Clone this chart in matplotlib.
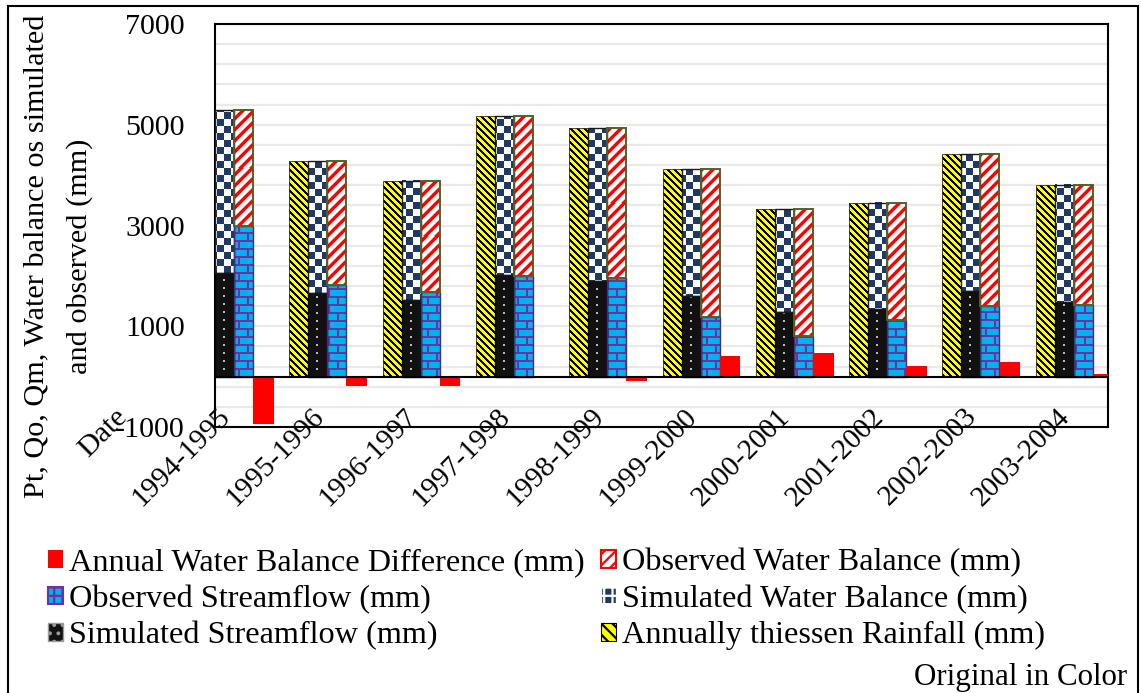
import numpy as np
import matplotlib
matplotlib.use('Agg')
import matplotlib.pyplot as plt
import matplotlib.colors as mcolors
from matplotlib.patches import Patch, Rectangle

# ---------------- data ----------------
years = ["1994-1995", "1995-1996", "1996-1997", "1997-1998", "1998-1999",
         "1999-2000", "2000-2001", "2001-2002", "2002-2003", "2003-2004"]
rainfall = [5300, 4275, 3885, 5170, 4930, 4120, 3320, 3440, 4410, 3800]
sim_flow = [2065, 1660, 1515, 2020, 1900, 1600, 1290, 1335, 1705, 1475]
sim_balance = [3235, 2615, 2370, 3150, 3030, 2520, 2030, 2105, 2705, 2325]
obs_flow = [2995, 1825, 1670, 2000, 1950, 1190, 810, 1125, 1410, 1420]
obs_balance = [2305, 2450, 2215, 3170, 2980, 2930, 2510, 2315, 3000, 2380]
balance_diff = [-950, -190, -180, -20, -80, 410, 465, 220, 300, 50]
first_label = "Date"
y_ticks = [-1000, 1000, 3000, 5000, 7000]
y_label_lines = ["Pt, Qo, Qm, Water balance os simulated", "and observed (mm)"]
series_names = ["Annual Water Balance Difference (mm)", "Observed Streamflow (mm)",
                "Simulated Streamflow (mm)", "Observed Water Balance (mm)",
                "Simulated Water Balance (mm)", "Annually thiessen Rainfall (mm)"]

plt.rcParams['font.family'] = ['Liberation Serif', 'DejaVu Serif']
plt.rcParams['hatch.linewidth'] = 1.6
plt.rcParams['axes.unicode_minus'] = False

W, H = 1141, 693
fig = plt.figure(figsize=(W / 100, H / 100), dpi=100)
ax = fig.add_axes([215 / W, 1 - 427 / H, (1108 - 215) / W, (427 - 24) / H])
bw = 0.2036
x = np.arange(len(years))
ax.set_xlim(-bw, 9.367)
ax.set_ylim(-1000, 7000)

YELLOW = '#FFFF00'; NAVY = '#1F3864'; CYAN = '#00B0F0'; PURPLE = '#7030A0'
RED = '#FF0000'; OLIVE = '#4F6228'


def rgb(h):
    return np.array(mcolors.to_rgb(h))


def make_tex(kind, X, Y, j, ncols):
    out = np.ones(X.shape + (3,))
    if kind == 'rain':
        out[:] = rgb(YELLOW)
        out[((X - Y) % 7) < 3] = rgb('#000000')
    elif kind == 'simq':
        out[:] = rgb('#111111')
        c = ncols // 2
        m = ((j == c) | (j == c - 1)) & ((Y % 8) < 2)
        out[m] = rgb('#BBBBBB')
    elif kind == 'simwb':
        out[:] = rgb('#FFFFFF')
        out[((X // 7 + Y // 7) % 2) == 0] = rgb(NAVY)
    elif kind == 'obsq':
        out[:] = rgb(CYAN)
        row = Y // 8
        mort = (Y % 8) < 2
        off = np.where(row % 2 == 0, 4, 13)
        vj = (((X % 18) - off) % 18) < 2
        out[mort | vj] = rgb(PURPLE)
    elif kind == 'obswb':
        d = (X + Y) % 11
        out[d < 4] = rgb(RED)
        out[(d == 4) | (d == 10)] = rgb('#FF9A9A')
    return out


def paint(rects, kind):
    for r in rects:
        x0 = r.get_x(); x1 = x0 + r.get_width()
        ya = r.get_y(); yb = ya + r.get_height()
        y0, y1 = min(ya, yb), max(ya, yb)
        (px0, py0), (px1, py1) = ax.transData.transform([(x0, y0), (x1, y1)])
        c0 = int(round(px0)); c1 = int(round(px1))
        t = int(round(H - py1)); b = int(round(H - py0))
        ncols = max(c1 - c0, 1); nrows = max(b - t, 1)
        jj, ii = np.meshgrid(np.arange(ncols), np.arange(nrows))
        tex = make_tex(kind, c0 + jj, t + ii, jj, ncols)
        ax.imshow(tex, extent=(x0, x1, y0, y1), aspect='auto',
                  interpolation='nearest', zorder=2)


r_rain = ax.bar(x - 1.5 * bw, rainfall, bw, facecolor='none',
                edgecolor='#333333', lw=0.6, zorder=3)
r_simq = ax.bar(x - 0.5 * bw, sim_flow, bw, facecolor='none',
                edgecolor='black', lw=1.0, zorder=3)
r_simwb = ax.bar(x - 0.5 * bw, sim_balance, bw, bottom=sim_flow, facecolor='none',
                 edgecolor='#1a1a1a', lw=1.0, zorder=3)
r_obsq = ax.bar(x + 0.5 * bw, obs_flow, bw, facecolor='none',
                edgecolor='#4B2A78', lw=1.0, zorder=3)
r_obswb = ax.bar(x + 0.5 * bw, obs_balance, bw, bottom=obs_flow, facecolor='none',
                 edgecolor=OLIVE, lw=1.4, zorder=3)
r_diff = ax.bar(x + 1.55 * bw, balance_diff, bw * 1.08, color=RED, zorder=3)

paint(r_rain, 'rain')
paint(r_simq, 'simq')
paint(r_simwb, 'simwb')
paint(r_obsq, 'obsq')
paint(r_obswb, 'obswb')

ax.set_xlim(-bw, 9.367)
ax.set_ylim(-1000, 7000)
ax.axhline(0, color='black', lw=1.5, zorder=4)

# grid
ax.set_yticks(y_ticks)
ax.set_yticks(np.arange(-1000, 7001, 400), minor=True)
ax.grid(which='both', axis='y', color='#E9E9E9', lw=1.6)
ax.set_axisbelow(True)
ax.tick_params(axis='y', which='both', length=0, pad=21.6, labelsize=21.6)

ax.set_xticks(x - 0.18, years)
ax.tick_params(axis='x', length=0, pad=-17, labelsize=21)
for lab in ax.get_xticklabels():
    lab.set_rotation(45)
    lab.set_ha('right')
    lab.set_rotation_mode('anchor')

for s in ax.spines.values():
    s.set_color('black')
    s.set_linewidth(1.5)

fig.text(114 / W, 1 - 404 / H, first_label, rotation=45, ha='right', va='top',
         rotation_mode='anchor', fontsize=21.6)

fig.text(36 / W, 1 - 256 / H, y_label_lines[0], rotation=90, ha='center',
         va='center', fontsize=21.8)
fig.text(80 / W, 1 - 256 / H, y_label_lines[1], rotation=90, ha='center',
         va='center', fontsize=21.8)

handles = [
    Patch(facecolor=RED, edgecolor='none', label=series_names[0]),
    Patch(facecolor=CYAN, edgecolor=PURPLE, hatch='++', lw=1.5, label=series_names[1]),
    Patch(facecolor='#111111', edgecolor='#999999', hatch='..', lw=1.0, label=series_names[2]),
    Patch(facecolor='white', edgecolor=RED, hatch='///', lw=1.5, label=series_names[3]),
    Patch(facecolor=NAVY, edgecolor='white', hatch='++', lw=1.0, label=series_names[4]),
    Patch(facecolor=YELLOW, edgecolor='black', hatch='\\\\\\', lw=0.8, label=series_names[5]),
]
fig.legend(handles=handles, loc='upper left', bbox_to_anchor=(48 / W, 1 - 548 / H),
           ncol=2, frameon=False, fontsize=23.2, handlelength=0.48, handleheight=0.48,
           handletextpad=0.18, columnspacing=0.5, labelspacing=0.23,
           borderpad=0, borderaxespad=0)

fig.text(1127 / W, 1 - 678 / H, "Original in Color", ha='right', va='center',
         fontsize=22.3)

fig.patches.append(Rectangle((8 / W, -2 / H), (1138 - 8) / W, (693 - 6 + 2) / H,
                             transform=fig.transFigure, fill=False,
                             edgecolor='black', lw=1.5))

fig.savefig('out.png', dpi=100, facecolor='white')
